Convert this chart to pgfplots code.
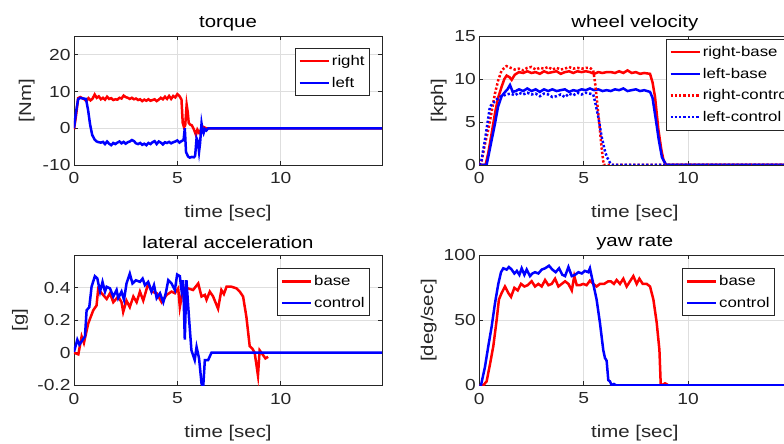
\documentclass[border=0pt]{standalone}
\usepackage{fontspec}
\setmainfont{Liberation Sans}[FakeStretch=1.2]
\usepackage{pgfplots}
\pgfplotsset{compat=1.18}
\definecolor{mgray}{RGB}{38,38,38}
\definecolor{ggray}{RGB}{222,222,222}
\definecolor{mred}{RGB}{255,0,0}
\definecolor{mblue}{RGB}{0,0,255}
\pgfplotsset{
  mstyle/.style={
    scale only axis, xmin=0, xmax=14.9, xtick={0,5,10}, xticklabels={0,5,10},
    grid=major, major grid style={ggray, line width=0.8pt},
    axis line style={mgray, line width=0.8pt},
    tick style={mgray, line width=0.8pt}, major tick length=4pt, tick align=inside,
    ticklabel style={font=\fontsize{16}{18}\selectfont, text=mgray},
    xticklabel style={yshift=-4pt},
    label style={font=\fontsize{17}{20}\selectfont, text=mgray},
    every axis title/.style={font=\fontsize{17}{20}\selectfont, text=black, at={(0.5,1)}, anchor=center, yshift=13pt},
    xlabel={time [sec]},
    xlabel style={at={(axis description cs:0.5,0)}, anchor=center, yshift=-48pt},
    legend style={font=\fontsize{14}{16}\selectfont, draw=mgray, line width=0.8pt, fill=white, inner xsep=3pt, inner ysep=5pt, row sep=6pt},
    legend cell align=left,
    legend image code/.code={\draw[#1,line width=2.5pt] (0pt,0pt) -- (29pt,0pt);},
    no markers,
  },
  ml/.style={line width=2.5pt},
  dotl/.style={line width=2.5pt, dash pattern=on 2.3pt off 2pt},
}
\begin{document}
\begin{tikzpicture}[x=1pt,y=1pt]
\path[use as bounding box] (0,0) rectangle (784,444);
\clip (0,0) rectangle (784,444);
% torque
\begin{axis}[mstyle, at={(74pt,279pt)}, anchor=south west, width=308pt, height=128.5pt,
  ymin=-10, ymax=25, ytick={-10,0,10,20}, yticklabels={-10,0,10,20},
  title=torque, ylabel={[Nm]}, ylabel style={at={(axis description cs:-0.1536,0.5)}, anchor=center},
  legend style={at={(0.961,0.911)}, anchor=north east}]
\addplot[mred,ml] coordinates {(0,-0.3)(0.1,3.5)(0.2,8.2)(0.3,8.5)(0.4,8.2)(0.5,7.9)(0.6,7.4)(0.7,8.2)(0.8,7.6)(0.9,8.1)(1.0,9.2)(1.1,8.3)(1.2,8.7)(1.3,7.9)(1.4,8.3)(1.5,7.8)(1.6,8.6)(1.7,8.0)(1.8,8.2)(1.9,7.7)(2.0,7.9)(2.1,7.8)(2.2,8.3)(2.3,8.1)(2.4,8.9)(2.5,8.5)(2.6,8.3)(2.7,8.0)(2.8,8.3)(2.9,7.9)(3.0,8.1)(3.1,7.7)(3.2,7.9)(3.3,7.4)(3.4,7.8)(3.5,7.5)(3.6,7.9)(3.7,7.5)(3.8,7.7)(3.9,7.9)(4.0,7.4)(4.1,7.8)(4.2,8.3)(4.3,7.9)(4.4,8.6)(4.5,8.0)(4.6,8.8)(4.7,8.0)(4.8,8.8)(4.9,8.4)(5.0,9.3)(5.1,8.8)(5.2,7.8)(5.26,1.5)(5.32,0.3)(5.38,0.8)(5.45,6.4)(5.5,4.5)(5.55,1.5)(5.62,1.0)(5.7,0.8)(5.8,-0.3)(5.9,-1.8)(5.97,-0.4)(6.05,-1.2)(6.15,-0.3)(6.25,0.4)(6.4,0)(15,0)};
\addlegendentry{right}
\addplot[mblue,ml] coordinates {(0,0)(0.1,4.5)(0.2,7.9)(0.3,8.3)(0.45,8.1)(0.58,8.0)(0.68,5)(0.78,1)(0.88,-1.8)(1.0,-3.1)(1.1,-3.6)(1.2,-3.8)(1.3,-3.9)(1.4,-3.7)(1.5,-4.3)(1.6,-3.6)(1.7,-4.2)(1.8,-4.6)(1.9,-4.0)(2.0,-4.3)(2.1,-3.9)(2.2,-3.6)(2.3,-4.1)(2.4,-3.7)(2.5,-4.2)(2.6,-3.8)(2.7,-3.6)(2.8,-3.2)(2.9,-3.5)(3.0,-4.1)(3.1,-4.3)(3.2,-4.0)(3.3,-4.5)(3.4,-4.2)(3.5,-4.6)(3.6,-4.0)(3.7,-4.3)(3.8,-3.8)(3.9,-3.5)(4.0,-4.3)(4.1,-3.6)(4.2,-3.9)(4.3,-4.4)(4.4,-3.8)(4.5,-4.0)(4.6,-3.7)(4.7,-4.1)(4.8,-3.8)(4.9,-3.6)(5.0,-3.3)(5.1,-3.9)(5.2,-3.5)(5.3,-3.2)(5.36,0)(5.42,-6.5)(5.52,-7.7)(5.6,-8.0)(5.7,-7.8)(5.8,-7.9)(5.86,-7.5)(5.93,-2.7)(5.99,-3.5)(6.05,-6.4)(6.1,-4)(6.17,1.3)(6.22,-0.5)(6.27,-1.3)(6.33,-0.2)(6.4,-0.6)(6.5,0)(15,0)};
\addlegendentry{left}
\end{axis}
% wheel velocity
\begin{axis}[mstyle, at={(479.3pt,279pt)}, anchor=south west, width=311pt, height=129pt,
  ymin=0, ymax=15, ytick={0,5,10,15}, yticklabels={0,5,10,15},
  title={wheel velocity}, ylabel={[kph]}, ylabel style={at={(axis description cs:-0.1305,0.5)}, anchor=center},
  legend style={at={(0.600,0.977)}, anchor=north west}]
\addplot[mred,ml] coordinates {(0,0)(0.3,0)(0.43,1.4)(0.6,3.8)(0.75,6.0)(0.9,7.8)(1.07,9.1)(1.2,10.0)(1.31,10.4)(1.45,10.2)(1.55,9.9)(1.7,10.5)(1.9,10.8)(2.1,10.7)(2.3,10.9)(2.5,10.7)(2.7,10.8)(2.9,10.6)(3.1,10.9)(3.3,10.7)(3.5,10.8)(3.7,10.9)(3.9,10.6)(4.1,10.8)(4.3,10.9)(4.5,10.7)(4.7,10.9)(4.9,10.8)(5.1,10.9)(5.3,10.8)(5.5,10.6)(5.7,10.8)(5.9,10.7)(6.1,10.8)(6.3,10.8)(6.5,10.7)(6.7,10.9)(6.9,10.7)(7.1,11.0)(7.3,10.7)(7.5,10.8)(7.7,10.6)(7.9,10.7)(8.18,10.6)(8.3,9.6)(8.42,7.9)(8.58,4.1)(8.72,1.8)(8.82,0.6)(8.95,0)(15,0)};
\addlegendentry{right-base}
\addplot[mblue,ml] coordinates {(0,0)(0.35,0)(0.5,1.8)(0.75,4.8)(0.9,6.8)(1.07,8.0)(1.2,8.4)(1.35,8.8)(1.47,9.3)(1.6,8.5)(1.75,8.6)(1.9,8.8)(2.1,8.6)(2.3,8.9)(2.5,8.6)(2.7,8.8)(2.9,8.5)(3.1,8.8)(3.3,8.6)(3.5,8.8)(3.7,8.6)(3.9,8.7)(4.1,8.8)(4.3,8.5)(4.5,8.7)(4.7,8.6)(4.9,8.8)(5.1,8.7)(5.3,8.9)(5.5,8.7)(5.7,8.8)(5.9,8.6)(6.1,8.7)(6.3,8.6)(6.5,8.8)(6.7,8.7)(6.9,8.9)(7.1,8.6)(7.3,8.7)(7.5,8.8)(7.7,8.6)(7.9,8.7)(8.18,8.5)(8.3,7.8)(8.45,5.4)(8.6,2.9)(8.75,0.9)(8.95,0)(15,0)};
\addlegendentry{left-base}
\addplot[mred,dotl] coordinates {(0,0)(0.1,0.3)(0.25,2.2)(0.43,4.1)(0.6,6.3)(0.75,8.3)(0.9,9.8)(1.07,11.0)(1.3,11.5)(1.5,11.3)(1.7,11.1)(1.9,11.2)(2.1,11.0)(2.3,11.3)(2.5,11.4)(2.7,11.1)(2.9,11.3)(3.1,11.2)(3.3,11.4)(3.5,11.1)(3.7,11.3)(3.9,11.1)(4.1,11.2)(4.3,11.4)(4.5,11.2)(4.7,11.3)(4.9,11.2)(5.1,11.3)(5.3,11.3)(5.46,11.0)(5.55,9.5)(5.62,7.9)(5.7,6.0)(5.78,4.0)(5.86,2.0)(5.96,0)(15,0)};
\addlegendentry{right-control}
\addplot[mblue,dotl] coordinates {(0,0)(0.1,0.5)(0.27,2.9)(0.4,5.0)(0.51,6.8)(0.7,7.3)(0.9,7.8)(1.07,8.0)(1.3,8.2)(1.5,8.3)(1.7,8.1)(1.9,8.4)(2.1,8.2)(2.3,8.4)(2.5,8.2)(2.7,8.3)(2.9,8.0)(3.1,8.3)(3.3,8.2)(3.5,7.9)(3.7,8.0)(3.9,8.2)(4.1,7.9)(4.3,8.3)(4.5,8.1)(4.7,8.4)(4.9,8.2)(5.1,8.4)(5.3,8.3)(5.46,8.2)(5.56,7.2)(5.7,5.6)(5.86,3.3)(6.0,1.8)(6.1,1.0)(6.25,0.3)(6.36,0)(15,0)};
\addlegendentry{left-control}
\end{axis}
% lateral acceleration
\begin{axis}[mstyle, at={(74pt,58.7pt)}, anchor=south west, width=308pt, height=130pt,
  ymin=-0.2, ymax=0.598, ytick={-0.2,0,0.2,0.4}, yticklabels={-0.2,0,0.2,0.4},
  title={lateral acceleration}, ylabel={[g]}, ylabel style={at={(axis description cs:-0.175,0.5)}, anchor=center},
  legend style={at={(0.961,0.902)}, anchor=north east}]
\addplot[mred,ml] coordinates {(0,0)(0.21,-0.01)(0.37,0.1)(0.48,0.06)(0.69,0.18)(0.93,0.26)(1.09,0.29)(1.17,0.39)(1.34,0.365)(1.58,0.33)(1.74,0.365)(1.9,0.31)(2.14,0.345)(2.3,0.31)(2.38,0.25)(2.54,0.32)(2.7,0.28)(2.87,0.345)(3.03,0.31)(3.19,0.375)(3.35,0.32)(3.59,0.425)(3.75,0.375)(4.0,0.365)(4.24,0.31)(4.48,0.355)(4.72,0.375)(4.88,0.365)(5.04,0.395)(5.12,0.28)(5.28,0.4)(5.52,0.395)(5.76,0.385)(6.01,0.425)(6.17,0.345)(6.33,0.355)(6.41,0.325)(6.57,0.375)(6.73,0.345)(6.97,0.27)(7.13,0.385)(7.25,0.36)(7.38,0.405)(7.46,0.405)(7.62,0.405)(7.86,0.395)(8.02,0.375)(8.18,0.345)(8.34,0.22)(8.50,0.04)(8.63,0.025)(8.74,0)(8.90,-0.14)(8.98,0.015)(9.15,-0.015)(9.26,-0.035)(9.39,-0.025)};
\addlegendentry{base}
\addplot[mblue,ml] coordinates {(0,0.005)(0.16,0.08)(0.26,0.05)(0.37,0.07)(0.53,0.1)(0.61,0.26)(0.74,0.28)(0.85,0.405)(1.01,0.47)(1.13,0.455)(1.26,0.375)(1.38,0.435)(1.50,0.375)(1.58,0.405)(1.74,0.395)(1.9,0.345)(2.06,0.385)(2.14,0.335)(2.3,0.375)(2.42,0.325)(2.54,0.425)(2.7,0.485)(2.83,0.425)(2.99,0.445)(3.19,0.435)(3.32,0.455)(3.43,0.415)(3.59,0.435)(3.75,0.375)(3.87,0.415)(4.0,0.335)(4.16,0.365)(4.32,0.31)(4.44,0.365)(4.56,0.445)(4.72,0.425)(4.88,0.385)(4.99,0.48)(5.12,0.47)(5.2,0.385)(5.28,0.445)(5.36,0.08)(5.44,0.445)(5.56,0.22)(5.68,0.015)(5.84,-0.045)(5.93,0.035)(6.05,-0.035)(6.17,-0.19)(6.25,-0.21)(6.33,-0.045)(6.49,-0.045)(6.65,0)(15,0)};
\addlegendentry{control}
\end{axis}
% yaw rate
\begin{axis}[mstyle, at={(479.3pt,58.7pt)}, anchor=south west, width=311pt, height=130pt,
  ymin=0, ymax=100, ytick={0,50,100}, yticklabels={0,50,100},
  title={yaw rate}, ylabel={[deg/sec]}, ylabel style={at={(axis description cs:-0.1627,0.5)}, anchor=center},
  legend style={at={(0.951,0.902)}, anchor=north east}]
\addplot[mred,ml] coordinates {(0,0)(0.19,0)(0.35,3)(0.51,16)(0.67,30)(0.83,50)(0.94,66)(1.07,71)(1.23,76)(1.39,71)(1.52,68)(1.68,75)(1.84,73)(2.0,78)(2.16,76)(2.32,77)(2.51,80)(2.67,76)(2.83,78)(2.99,76)(3.15,81)(3.31,77)(3.47,78)(3.63,82)(3.79,76)(3.95,78)(4.11,80)(4.27,78)(4.43,73)(4.55,84)(4.67,77)(4.82,77)(4.98,78)(5.14,77)(5.3,80.5)(5.46,78)(5.62,76)(5.78,78)(5.98,78)(6.18,80)(6.3,80)(6.45,78)(6.58,81)(6.74,78)(6.90,82)(7.06,76)(7.22,80)(7.38,84)(7.54,78)(7.67,82)(7.83,78)(8.02,78)(8.18,76)(8.34,66)(8.50,48)(8.63,27)(8.69,1.5)(8.74,0)(8.90,1.5)(9.06,0)(9.4,0)};
\addlegendentry{base}
\addplot[mblue,ml] coordinates {(0,0)(0.08,0)(0.27,14)(0.43,30)(0.59,45)(0.75,63)(0.91,78)(1.04,87)(1.15,90)(1.31,89)(1.42,91)(1.55,89)(1.68,86)(1.8,88)(1.92,85)(2.03,90)(2.16,85)(2.27,89)(2.43,84)(2.54,86)(2.67,87)(2.83,86)(2.99,89)(3.15,90)(3.34,92)(3.5,89)(3.66,87)(3.82,90)(3.98,85)(4.11,84)(4.27,91)(4.43,84)(4.59,85)(4.75,87)(4.91,86)(5.06,88)(5.22,87)(5.3,90)(5.46,78)(5.62,66)(5.78,48)(5.94,27)(6.02,21)(6.1,19)(6.18,4)(6.26,3)(6.34,0)(6.45,1)(6.55,0)(15,0)};
\addlegendentry{control}
\end{axis}
\end{tikzpicture}
\end{document}
